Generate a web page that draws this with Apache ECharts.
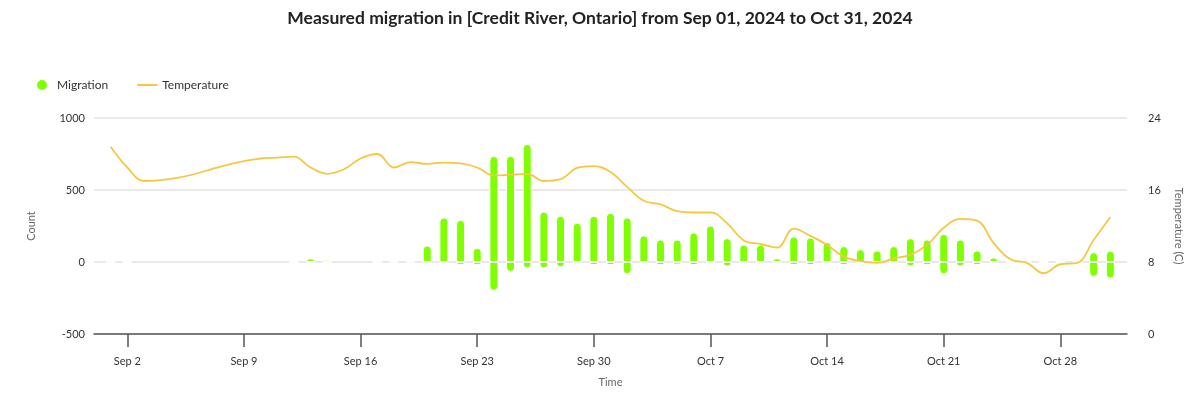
<!DOCTYPE html>
<html>
<head>
<meta charset="utf-8">
<title>Measured migration</title>
<script src="https://cdn.jsdelivr.net/npm/echarts@6/dist/echarts.min.js"></script>
<style>
    html, body { margin: 0; padding: 0; background: #fff; }
    #chart { width: 1200px; height: 409px; }
</style>
</head>
<body>
<div id="chart"></div>
<script>
// first day of the data, one value per day from here
var firstDay = '2024-09-01';

// fish counted going up (positive) and going down (negative), Sep 1 .. Oct 31
var upCounts = [
    0, 0, null, null, null, null, null, null, null, null,
    null, 0, 25, 15, null, null, 0, 8, 8, 115,
    310, 293, 99, 737, 737, 820, 351, 321, 273, 321,
    342, 310, 185, 157, 157, 206, 254, 166, 122, 122,
    25, 178, 171, 139, 111, 90, 81, 111, 166, 157,
    196, 157, 81, 32, 0, 5, 0, 5, 5, 69,
    79
];
var downCounts = [
    0, 0, null, null, null, null, null, null, null, null,
    null, 0, 0, 0, null, null, 0, 0, 0, 0,
    0, -20, -20, -200, -69, -44, -44, -37, -12, -21,
    -21, -85, -12, -21, -18, -21, -12, -30, -12, -12,
    0, -21, -21, -5, -21, -12, 0, -12, -30, -21,
    -85, -30, -21, 0, 0, 0, 0, 0, 0, -104,
    -115
];
// water temperature (C)
var temperature = [
    20.8, 18.5, 17.0, 17.1, 17.35, 17.75, 18.3, 18.8, 19.2, 19.5,
    19.6, 19.7, 18.5, 17.8, 18.3, 19.5, 20.0, 18.5, 19.1, 18.9,
    19.05, 18.95, 18.5, 17.6, 17.7, 17.8, 17.0, 17.2, 18.45, 18.65,
    18.0, 16.35, 14.8, 14.4, 13.65, 13.5, 13.5, 12.3, 10.4, 10.0,
    9.6, 11.7, 10.9, 9.9, 8.6, 8.1, 7.9, 8.4, 8.8, 9.9,
    11.8, 12.8, 12.6, 10.1, 8.3, 7.9, 6.75, 7.75, 7.9, 10.45,
    13.0
];
// x axis tick labels (weekly)
var weekTicks = ['2024-09-02', '2024-09-09', '2024-09-16', '2024-09-23', '2024-09-30',
    '2024-10-07', '2024-10-14', '2024-10-21', '2024-10-28'];
var monthNames = ['Jan', 'Feb', 'Mar', 'Apr', 'May', 'Jun', 'Jul', 'Aug', 'Sep', 'Oct', 'Nov', 'Dec'];

var fontName = 'Lato, "Noto Sans", sans-serif';

// 'yyyy-mm-dd' -> local timestamp
function toTime(s) {
    var p = s.split('-');
    return new Date(+p[0], +p[1] - 1, +p[2]).getTime();
}

var start = toTime(firstDay);
function dayTime(i) {
    var d = new Date(start);
    d.setDate(d.getDate() + i);
    return d.getTime();
}

function pairs(values) {
    var out = [];
    for (var i = 0; i < values.length; i++) {
        out.push([dayTime(i), values[i] === null ? '-' : values[i]]);
    }
    return out;
}

var tickTimes = weekTicks.map(toTime);

var myChart = echarts.init(document.getElementById('chart'));

var option = {
    animation: false,
    textStyle: { fontFamily: fontName },
    title: {
        text: 'Measured migration in [Credit River, Ontario] from Sep 01, 2024 to Oct 31, 2024',
        left: 'center',
        top: 4,
        textStyle: { fontSize: 17.5, fontWeight: 'bold', color: '#222', fontFamily: fontName }
    },
    legend: {
        left: 30,
        top: 73,
        itemWidth: 20,
        itemHeight: 12,
        itemGap: 28,
        textStyle: { fontSize: 12, color: '#333' },
        data: [
            { name: 'Migration', icon: 'circle' },
            // hide the little circle, keep only the line
            { name: 'Temperature', itemStyle: { opacity: 0 } }
        ]
    },
    grid: {
        left: 94,
        right: 73,
        top: 118,
        bottom: 75
    },
    // timestamps on a value axis so the weekly ticks can be given directly
    xAxis: {
        type: 'value',
        min: toTime('2024-08-31'),
        max: toTime('2024-11-01'),
        name: 'Time',
        nameLocation: 'middle',
        nameGap: 43,
        nameTextStyle: { color: '#666', fontSize: 11 },
        axisLine: { onZero: false, lineStyle: { color: '#555', width: 1.5 } },
        axisTick: {
            customValues: tickTimes,
            length: 13,
            lineStyle: { color: '#555', width: 1.5 }
        },
        axisLabel: {
            customValues: tickTimes,
            margin: 22,
            color: '#333',
            fontSize: 11,
            formatter: function (v) {
                var d = new Date(v);
                return monthNames[d.getMonth()] + ' ' + d.getDate();
            }
        },
        splitLine: { show: false }
    },
    yAxis: [{
        type: 'value',
        min: -500,
        max: 1000,
        interval: 500,
        name: 'Count',
        nameLocation: 'middle',
        nameGap: 57,
        nameTextStyle: { color: '#666', fontSize: 11 },
        axisLine: { show: false },
        axisTick: { show: false },
        axisLabel: {
            color: '#333', fontSize: 11, margin: 9,
            formatter: function (v) { return String(v); }
        },
        splitLine: { lineStyle: { color: '#e2e2e2', width: 1.5 } }
    }, {
        type: 'value',
        min: 0,
        max: 24,
        interval: 8,
        position: 'right',
        name: 'Temperature (C)',
        nameLocation: 'middle',
        nameRotate: -90,
        nameGap: 46,
        nameTextStyle: { color: '#666', fontSize: 11 },
        axisLine: { show: false },
        axisTick: { show: false },
        axisLabel: { color: '#333', fontSize: 11, margin: 21 },
        splitLine: { show: false }
    }],
    series: [{
        name: 'Migration',
        type: 'bar',
        yAxisIndex: 0,
        barWidth: 9,
        barGap: '-100%',
        itemStyle: {
            color: '#7fff00',
            borderColor: '#fff',
            borderWidth: 1,
            borderRadius: [4.5, 4.5, 0, 0]
        },
        data: pairs(upCounts)
    }, {
        name: 'Migration',
        type: 'bar',
        yAxisIndex: 0,
        barWidth: 9,
        barGap: '-100%',
        itemStyle: {
            color: '#7fff00',
            borderColor: '#fff',
            borderWidth: 1,
            borderRadius: [0, 0, 4.5, 4.5]
        },
        data: pairs(downCounts)
    }, {
        name: 'Temperature',
        type: 'line',
        yAxisIndex: 1,
        smooth: 0.4,
        symbol: 'none',
        lineStyle: { color: '#f5c842', width: 1.8 },
        itemStyle: { color: '#f5c842' },
        z: 3,
        data: pairs(temperature)
    }]
};
myChart.setOption(option);
</script>
</body>
</html>
